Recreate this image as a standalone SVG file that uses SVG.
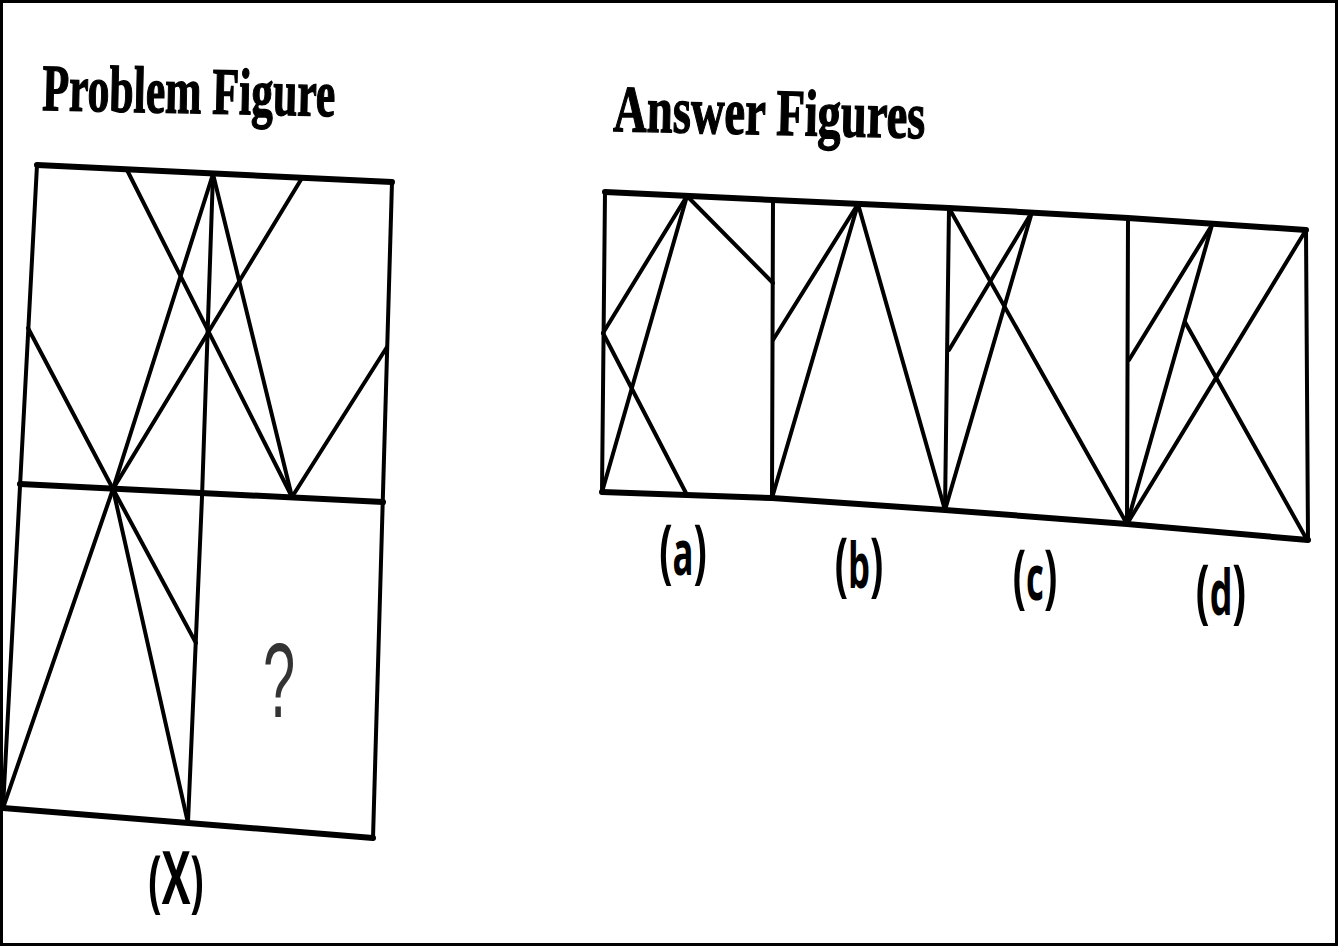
<svg xmlns="http://www.w3.org/2000/svg" width="1339" height="947" viewBox="0 0 1339 947">
<style>
.ln{stroke:#000;stroke-width:4;fill:none;stroke-linecap:round;stroke-linejoin:round}
.thick{stroke:#000;stroke-width:6;fill:none;stroke-linecap:round;stroke-linejoin:round}
.head{font-family:"Liberation Serif",serif;font-weight:bold;font-size:66px;fill:#000;stroke:#000;stroke-width:1.4}
.lbl{font-family:"Open Sans","Liberation Sans",sans-serif;font-weight:bold;font-size:62px;fill:#000}
.p{font-size:70px}
.q{font-family:"Liberation Sans",sans-serif;font-size:105px;fill:#333}
</style>
<rect x="1.5" y="1.5" width="1335" height="943" fill="#fff" stroke="#000" stroke-width="3"/>

<text class="head" x="42" y="110" textLength="293" lengthAdjust="spacingAndGlyphs" transform="rotate(1.2 42 110)">Problem Figure</text>
<text class="head" x="613" y="131" textLength="312" lengthAdjust="spacingAndGlyphs" transform="rotate(1.3 613 131)">Answer Figures</text>

<g id="problem-figure">
  <g id="problem-frame">
    <line class="thick" x1="37" y1="165" x2="392" y2="182"/>
    <line class="thick" x1="20" y1="484" x2="383" y2="502"/>
    <line class="thick" x1="3" y1="808" x2="373" y2="838"/>
    <line class="ln" x1="37" y1="165" x2="3" y2="808"/>
    <line class="ln" x1="392" y1="182" x2="373" y2="838"/>
    <polyline class="ln" points="213,174 202,497 188,822"/>
  </g>
  <g id="problem-lines">
    <line class="ln" x1="113" y1="489" x2="28" y2="328"/>
    <line class="ln" x1="113" y1="489" x2="213" y2="174"/>
    <line class="ln" x1="113" y1="489" x2="302" y2="178"/>
    <line class="ln" x1="292" y1="497" x2="127" y2="170"/>
    <line class="ln" x1="292" y1="497" x2="213" y2="174"/>
    <line class="ln" x1="292" y1="497" x2="387" y2="347"/>
    <line class="ln" x1="113" y1="489" x2="3" y2="808"/>
    <line class="ln" x1="113" y1="489" x2="188" y2="823"/>
    <line class="ln" x1="113" y1="489" x2="196" y2="643"/>
  </g>
  <text class="q" text-anchor="middle" transform="translate(279,717) scale(0.55,1)">?</text>
  <text class="lbl" text-anchor="middle" transform="translate(176,904) scale(0.58,1)"><tspan class="p" style="font-size:68px">(</tspan><tspan style="font-size:74px">X</tspan><tspan class="p" style="font-size:68px">)</tspan></text>
</g>

<g id="answer-figures">
  <g id="answer-frame">
    <polyline class="thick" points="605,192 773,200 949,208 1128,218 1306,230"/>
    <polyline class="thick" points="602,492 772,498 945,510 1127,524 1308,540"/>
    <line class="ln" x1="605" y1="192" x2="602" y2="492"/>
    <line class="ln" x1="773" y1="200" x2="772" y2="498"/>
    <line class="ln" x1="949" y1="208" x2="945" y2="510"/>
    <line class="ln" x1="1128" y1="218" x2="1127" y2="524"/>
    <line class="ln" x1="1306" y1="230" x2="1308" y2="540"/>
  </g>
  <g id="answer-a">
    <line class="ln" x1="687" y1="196" x2="603" y2="333"/>
    <line class="ln" x1="687" y1="196" x2="602" y2="492"/>
    <line class="ln" x1="687" y1="196" x2="773" y2="283"/>
    <line class="ln" x1="603" y1="333" x2="687" y2="495"/>
    <text class="lbl" text-anchor="middle" transform="translate(683,575) scale(0.56,1)"><tspan class="p">(</tspan>a<tspan class="p">)</tspan></text>
  </g>
  <g id="answer-b">
    <line class="ln" x1="858" y1="204" x2="773" y2="340"/>
    <line class="ln" x1="858" y1="204" x2="772" y2="498"/>
    <line class="ln" x1="858" y1="204" x2="945" y2="510"/>
    <text class="lbl" text-anchor="middle" transform="translate(859,588) scale(0.56,1)"><tspan class="p">(</tspan>b<tspan class="p">)</tspan></text>
  </g>
  <g id="answer-c">
    <line class="ln" x1="949" y1="208" x2="1127" y2="524"/>
    <line class="ln" x1="1032" y1="212" x2="949" y2="350"/>
    <line class="ln" x1="1032" y1="212" x2="945" y2="510"/>
    <text class="lbl" text-anchor="middle" transform="translate(1035,600) scale(0.56,1)"><tspan class="p">(</tspan>c<tspan class="p">)</tspan></text>
  </g>
  <g id="answer-d">
    <line class="ln" x1="1212" y1="225" x2="1129" y2="360"/>
    <line class="ln" x1="1212" y1="225" x2="1127" y2="524"/>
    <line class="ln" x1="1306" y1="230" x2="1127" y2="524"/>
    <line class="ln" x1="1185" y1="322" x2="1306" y2="538"/>
    <text class="lbl" text-anchor="middle" transform="translate(1221,615) scale(0.58,1)"><tspan class="p">(</tspan>d<tspan class="p">)</tspan></text>
  </g>
</g>
</svg>
